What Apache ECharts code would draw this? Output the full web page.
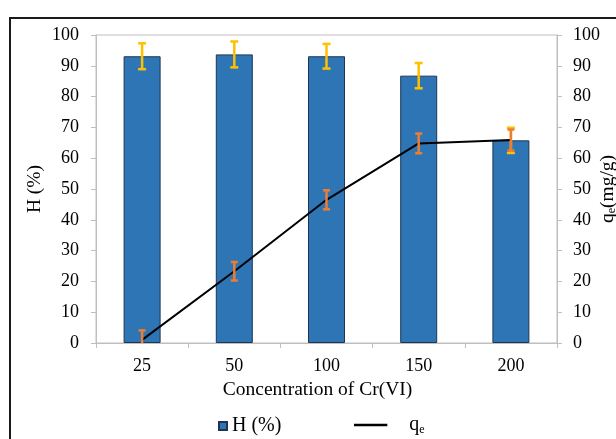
<!DOCTYPE html>
<html>
<head>
<meta charset="utf-8">
<script src="https://cdn.jsdelivr.net/npm/echarts@6/dist/echarts.min.js"></script>
<style>
  html, body { margin: 0; padding: 0; background: #fff; overflow: hidden; }
  #chart { width: 616px; height: 439px; }
</style>
</head>
<body>
<div id="chart"></div>
<script>
// Cr(VI) concentrations on the category axis
const concentrations = ['25', '50', '100', '150', '200'];
// Removal efficiency H (%) with its error
const removal = [93.1, 93.7, 93.1, 86.8, 65.8];
const removalErr = [4.2, 4.2, 4.0, 4.1, 4.1];
// Adsorption capacity qe (mg/g) with its error
const uptake = [1.0, 23.3, 46.5, 64.8, 65.9];
const uptakeErr = [3.1, 3.0, 3.1, 3.2, 3.4];
// Shared tick settings for both value axes
const yMin = 0, yMax = 100, yStep = 10;

const FONT = 'Liberation Serif';
const AXIS_GRAY = '#BFBFBF';
const TICK_SIZE = 18;
const NAME_SIZE = 19.5;

function errorData(values, errs) {
  return values.map((v, i) => [i, v - errs[i], v + errs[i]]);
}

function errorRenderer(color, capHalf, width) {
  return function (params, api) {
    const x = api.value(0);
    const lo = api.coord([x, api.value(1)]);
    const hi = api.coord([x, api.value(2)]);
    const style = { stroke: color, lineWidth: width, fill: null };
    return {
      type: 'group',
      children: [
        { type: 'line', shape: { x1: lo[0], y1: lo[1], x2: hi[0], y2: hi[1] }, style },
        { type: 'line', shape: { x1: hi[0] - capHalf, y1: hi[1], x2: hi[0] + capHalf, y2: hi[1] }, style },
        { type: 'line', shape: { x1: lo[0] - capHalf, y1: lo[1], x2: lo[0] + capHalf, y2: lo[1] }, style }
      ]
    };
  };
}

const valueAxisBase = {
  type: 'value',
  min: yMin,
  max: yMax,
  interval: yStep,
  nameLocation: 'middle',
  nameRotate: 90,
  nameMoveOverlap: false,
  axisLine: { show: true, lineStyle: { color: AXIS_GRAY, width: 1 } },
  axisTick: { show: true, length: 5, lineStyle: { color: AXIS_GRAY } },
  splitLine: { show: false }
};

const chart = echarts.init(document.getElementById('chart'), null, { renderer: 'canvas' });

chart.setOption({
  animation: false,
  backgroundColor: '#fff',
  textStyle: { fontFamily: FONT },
  graphic: [{
    type: 'rect',
    shape: { x: 10, y: 18, width: 700, height: 500 },
    style: { fill: null, stroke: '#1a1a1a', lineWidth: 2 },
    silent: true,
    z: -10
  }],
  grid: {
    left: 96, right: 59, top: 35, bottom: 96,
    outerBoundsMode: 'none',
    containLabel: false,
    show: true, borderColor: AXIS_GRAY, borderWidth: 1
  },
  legend: [{
    data: ['H (%)'],
    left: 213, top: 411,
    icon: 'rect',
    itemWidth: 8, itemHeight: 8,
    textStyle: { fontFamily: FONT, fontSize: 20, color: '#000' }
  }, {
    data: ['qe'],
    left: 349, top: 410,
    icon: 'path://M0,0 L40,0 L40,3 L0,3 Z',
    itemWidth: 39, itemHeight: 2.5,
    itemStyle: { color: '#000' },
    formatter: () => '{q|q}{e|e}',
    textStyle: {
      fontFamily: FONT, fontSize: 20, color: '#000',
      padding: [0, 0, 0, 14],
      rich: {
        q: { fontFamily: FONT, fontSize: 20, color: '#000' },
        e: { fontFamily: FONT, fontSize: 12, color: '#000', verticalAlign: 'bottom', padding: [9, 0, 0, 0] }
      }
    }
  }],
  xAxis: {
    type: 'category',
    data: concentrations,
    boundaryGap: true,
    name: 'Concentration of Cr(VI)',
    nameLocation: 'middle',
    nameGap: 37,
    nameMoveOverlap: false,
    nameTextStyle: { fontFamily: FONT, fontSize: NAME_SIZE, color: '#000', padding: [0, 18, 0, 0] },
    axisLine: { show: true, lineStyle: { color: AXIS_GRAY, width: 1 } },
    axisTick: { show: true, length: 5, alignWithLabel: false, lineStyle: { color: AXIS_GRAY } },
    axisLabel: { fontFamily: FONT, fontSize: TICK_SIZE, color: '#000', margin: 14 }
  },
  yAxis: [
    Object.assign({}, valueAxisBase, {
      position: 'left',
      name: 'H (%)',
      nameGap: 51,
      nameTextStyle: { fontFamily: FONT, fontSize: NAME_SIZE, color: '#000' },
      axisLabel: { fontFamily: FONT, fontSize: TICK_SIZE, color: '#000', margin: 17 }
    }),
    Object.assign({}, valueAxisBase, {
      position: 'right',
      name: '{a|q}{s|e}{a|(mg/g)}',
      nameGap: 40,
      nameTextStyle: {
        fontFamily: FONT, fontSize: NAME_SIZE, color: '#000',
        rich: {
          a: { fontFamily: FONT, fontSize: NAME_SIZE, color: '#000' },
          s: { fontFamily: FONT, fontSize: 12, color: '#000', padding: [9, 0, 0, 0] }
        }
      },
      axisLabel: { fontFamily: FONT, fontSize: TICK_SIZE, color: '#000', margin: 16 }
    })
  ],
  series: [
    {
      name: 'H (%)',
      type: 'bar',
      yAxisIndex: 0,
      data: removal,
      barWidth: 37,
      itemStyle: { color: '#2E75B6', borderColor: '#1F3552', borderWidth: 1 },
      z: 2
    },
    {
      name: 'H error',
      type: 'custom',
      yAxisIndex: 0,
      data: errorData(removal, removalErr),
      renderItem: errorRenderer('#FFC000', 4, 2.5),
      clip: true,
      z: 3
    },
    {
      name: 'qe',
      type: 'line',
      yAxisIndex: 1,
      data: uptake,
      showSymbol: false,
      symbol: 'none',
      lineStyle: { color: '#000', width: 2 },
      itemStyle: { color: '#000' },
      z: 4
    },
    {
      name: 'qe error',
      type: 'custom',
      yAxisIndex: 1,
      data: errorData(uptake, uptakeErr),
      renderItem: errorRenderer('#ED7D31', 3.5, 2.5),
      clip: true,
      z: 5
    }
  ]
});
</script>
</body>
</html>
